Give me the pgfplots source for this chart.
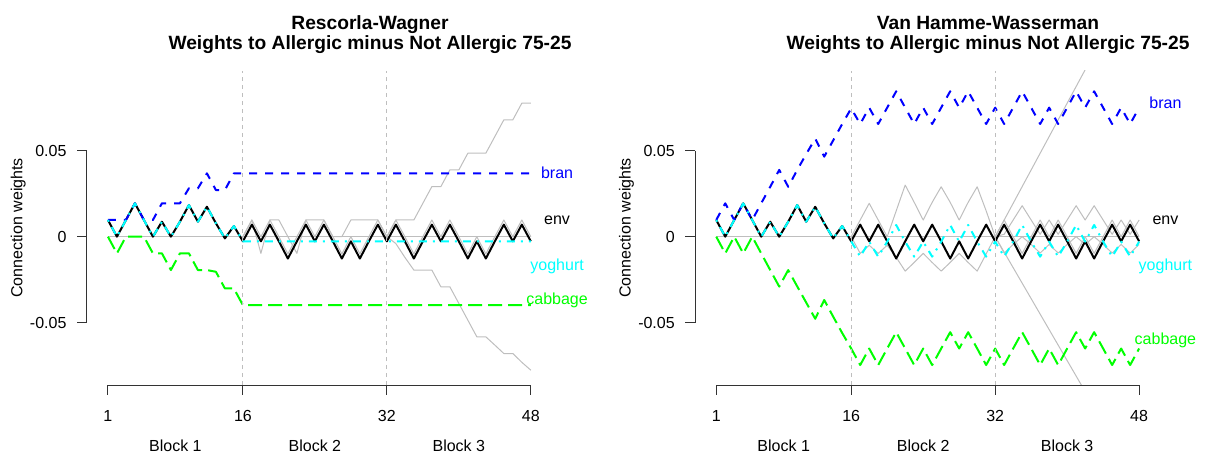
\documentclass[border=0pt]{standalone}
\usepackage{pgfplots}
\pgfplotsset{compat=1.18}
\usepackage{pgfplotstable}
\usepackage{fontspec}
\setmainfont{Liberation Sans}

\definecolor{rgrey}{HTML}{BEBEBE}
\definecolor{rblue}{HTML}{0000FF}
\definecolor{rgreen}{HTML}{00FF00}
\definecolor{rcyan}{HTML}{00FFFF}
\definecolor{raxis}{HTML}{333333}

% Rescorla-Wagner weights per trial
\pgfplotstableread{
t bran env yog cab
1 0.0097 0.0097 0.0097 0.0
2 0.0097 0.0 0.0 -0.0097
3 0.0097 0.0097 0.0097 0.0
4 0.0194 0.0194 0.0194 0.0
5 0.0097 0.0097 0.0097 0.0
6 0.0097 0.0 0.0 -0.0097
7 0.0194 0.0087 0.0087 -0.0097
8 0.0194 0.0 0.0 -0.0194
9 0.0194 0.0087 0.0087 -0.0097
10 0.0281 0.0184 0.0184 -0.0097
11 0.0281 0.0087 0.0087 -0.0194
12 0.0368 0.0174 0.0174 -0.0194
13 0.0271 0.0078 0.0078 -0.0204
14 0.0271 -0.0010 -0.0010 -0.0301
15 0.0368 0.0062 0.0062 -0.0301
16 0.0368 -0.0027 -0.0027 -0.0398
17 0.0368 0.0070 -0.0027 -0.0398
18 0.0368 -0.0027 -0.0027 -0.0398
19 0.0368 0.0070 -0.0027 -0.0398
20 0.0368 -0.0027 -0.0027 -0.0398
21 0.0368 -0.0127 -0.0027 -0.0398
22 0.0368 -0.0027 -0.0027 -0.0398
23 0.0368 0.0070 -0.0027 -0.0398
24 0.0368 -0.0027 -0.0027 -0.0398
25 0.0368 0.0070 -0.0027 -0.0398
26 0.0368 -0.0027 -0.0027 -0.0398
27 0.0368 -0.0127 -0.0027 -0.0398
28 0.0368 -0.0027 -0.0027 -0.0398
29 0.0368 -0.0127 -0.0027 -0.0398
30 0.0368 -0.0027 -0.0027 -0.0398
31 0.0368 0.0070 -0.0027 -0.0398
32 0.0368 -0.0027 -0.0027 -0.0398
33 0.0368 0.0070 -0.0027 -0.0398
34 0.0368 -0.0027 -0.0027 -0.0398
35 0.0368 -0.0127 -0.0027 -0.0398
36 0.0368 -0.0027 -0.0027 -0.0398
37 0.0368 0.0070 -0.0027 -0.0398
38 0.0368 -0.0027 -0.0027 -0.0398
39 0.0368 0.0070 -0.0027 -0.0398
40 0.0368 -0.0027 -0.0027 -0.0398
41 0.0368 -0.0127 -0.0027 -0.0398
42 0.0368 -0.0027 -0.0027 -0.0398
43 0.0368 -0.0127 -0.0027 -0.0398
44 0.0368 -0.0027 -0.0027 -0.0398
45 0.0368 0.0070 -0.0027 -0.0398
46 0.0368 -0.0027 -0.0027 -0.0398
47 0.0368 0.0070 -0.0027 -0.0398
48 0.0368 -0.0027 -0.0027 -0.0398
}\rwdata

% Rescorla-Wagner: remaining cues (grey)
\pgfplotstableread{
t g1 g2
16 0.0 0.0
17 0.0097 0.0097
18 0.0 -0.0097
19 0.0097 0.0097
20 0.0 0.0097
21 -0.0100 0.0
22 0.0 -0.0097
23 0.0097 0.0097
24 0.0 0.0097
25 0.0097 0.0097
26 0.0 0.0
27 -0.0100 0.0
28 0.0 0.0097
29 -0.0100 0.0097
30 0.0 0.0097
31 0.0097 0.0097
32 0.0 0.0
33 0.0097 0.0097
34 0.0 0.0097
35 -0.0100 0.0097
36 0.0 0.0194
37 0.0097 0.0291
38 0.0 0.0291
39 0.0097 0.0388
40 0.0 0.0388
41 -0.0100 0.0485
42 0.0 0.0485
43 -0.0100 0.0485
44 0.0 0.0582
45 0.0097 0.0679
46 0.0 0.0679
47 0.0097 0.0776
48 0.0 0.0776
}\rwgrey

\pgfplotstableread{
t g3
32 0.0
33 -0.0040
34 -0.0120
35 -0.0194
36 -0.0194
37 -0.0194
38 -0.0291
39 -0.0291
40 -0.0388
41 -0.0485
42 -0.0582
43 -0.0582
44 -0.0630
45 -0.0679
46 -0.0679
47 -0.0730
48 -0.0776
}\rwgreydown

% Van Hamme-Wasserman weights per trial
\pgfplotstableread{
t bran env yog cab
1 0.0097 0.0097 0.0097 0.0
2 0.0194 0.0 0.0 -0.0097
3 0.0097 0.0097 0.0097 0.0
4 0.0194 0.0194 0.0194 -0.0097
5 0.0097 0.0097 0.0097 0.0
6 0.0194 0.0 0.0 -0.0097
7 0.0290 0.0087 0.0087 -0.0194
8 0.0388 0.0 0.0 -0.0290
9 0.0290 0.0087 0.0087 -0.0194
10 0.0388 0.0184 0.0184 -0.0289
11 0.0480 0.0087 0.0087 -0.0383
12 0.0570 0.0174 0.0174 -0.0477
13 0.0465 0.0078 0.0078 -0.0368
14 0.0560 -0.0010 -0.0010 -0.0465
15 0.0655 0.0062 0.0062 -0.0560
16 0.0746 -0.0027 -0.0027 -0.0650
17 0.0655 0.0070 -0.0116 -0.0746
18 0.0750 -0.0027 -0.0029 -0.0650
19 0.0655 0.0070 -0.0116 -0.0746
20 0.0750 -0.0027 -0.0029 -0.0650
21 0.0845 -0.0127 0.0068 -0.0555
22 0.0750 -0.0027 -0.0029 -0.0650
23 0.0655 0.0070 -0.0116 -0.0746
24 0.0750 -0.0027 -0.0029 -0.0650
25 0.0655 0.0070 -0.0116 -0.0746
26 0.0750 -0.0027 -0.0029 -0.0650
27 0.0845 -0.0127 0.0068 -0.0555
28 0.0750 -0.0027 -0.0029 -0.0650
29 0.0845 -0.0127 0.0068 -0.0555
30 0.0750 -0.0027 -0.0029 -0.0650
31 0.0655 0.0070 -0.0116 -0.0746
32 0.0750 -0.0027 -0.0029 -0.0650
33 0.0655 0.0070 -0.0116 -0.0746
34 0.0750 -0.0027 -0.0029 -0.0650
35 0.0845 -0.0127 0.0068 -0.0555
36 0.0750 -0.0027 -0.0029 -0.0650
37 0.0655 0.0070 -0.0116 -0.0746
38 0.0750 -0.0027 -0.0029 -0.0650
39 0.0655 0.0070 -0.0116 -0.0746
40 0.0750 -0.0027 -0.0029 -0.0650
41 0.0845 -0.0127 0.0068 -0.0555
42 0.0750 -0.0027 -0.0029 -0.0650
43 0.0845 -0.0127 0.0068 -0.0555
44 0.0750 -0.0027 -0.0029 -0.0650
45 0.0655 0.0070 -0.0116 -0.0746
46 0.0750 -0.0027 -0.0029 -0.0650
47 0.0655 0.0070 -0.0116 -0.0746
48 0.0750 -0.0027 -0.0029 -0.0650
}\vhwdata

% Van Hamme-Wasserman: remaining cues (grey)
\pgfplotstableread{
t g1 g2
16 0.0 0.0
17 0.0097 -0.0097
18 0.0194 -0.0050
19 0.0097 -0.0097
20 0.0 -0.0050
21 0.0150 -0.0120
22 0.0300 -0.0200
23 0.0200 -0.0150
24 0.0097 -0.0097
25 0.0200 -0.0150
26 0.0290 -0.0200
27 0.0200 -0.0150
28 0.0097 -0.0097
29 0.0200 -0.0150
30 0.0290 -0.0200
31 0.0150 -0.0100
32 0.0 0.0
33 0.0097 -0.0090
34 0.0194 -0.0180
35 0.0291 -0.0270
36 0.0388 -0.0360
37 0.0485 -0.0450
38 0.0582 -0.0540
39 0.0679 -0.0630
40 0.0776 -0.0720
41 0.0873 -0.0810
42 0.0970 -0.0900
43 0.1067 -0.0990
}\vhwgrey

\pgfplotstableread{
t g3 g4 g5
32 0.0 0.0 0.0
33 0.0014 -0.0095 0.0097
34 0.0097 -0.0045 0.0
35 0.0180 0.0 -0.0097
36 0.0097 -0.0045 0.0
37 0.0014 -0.0095 0.0097
38 0.0097 -0.0045 0.0
39 0.0014 -0.0095 0.0097
40 0.0097 -0.0045 0.0
41 0.0180 0.0 -0.0097
42 0.0097 -0.0045 0.0
43 0.0180 0.0 -0.0097
44 0.0097 -0.0045 0.0
45 0.0014 -0.0095 0.0097
46 0.0097 -0.0045 0.0
47 0.0014 -0.0095 0.0097
48 0.0097 -0.0045 0.0
}\vhwgreyb

\pgfplotsset{
  rpanel/.style={
    scale only axis, width=430pt, height=235.5pt,
    xmin=-1.36, xmax=62.36, ymin=-0.0862, ymax=0.0963,
    hide axis, clip mode=individual, anchor=south west
  },
  greyline/.style={rgrey, line width=0.75pt, line join=round, forget plot},
  envline/.style={black, line width=1.5pt, line join=round},
  branline/.style={rblue, line width=1.5pt, dash pattern=on 6pt off 6pt, line join=round},
  cabline/.style={rgreen, line width=1.5pt, dash pattern=on 10.5pt off 4.5pt, line join=round},
  yogline/.style={rcyan, line width=1.5pt, dash pattern=on 1.5pt off 4.5pt on 6pt off 4.5pt, line join=round},
}

\newcommand{\lbl}{\fontsize{12}{14}\selectfont}
\newcommand{\ttl}{\bfseries\fontsize{14.4}{17}\selectfont}

% R-style frame: axes, ticks, block markers and labels
\newcommand{\rframe}{%
  \draw[rgrey, line width=0.75pt, dash pattern=on 3pt off 3pt] (axis cs:16,-0.0862) -- (axis cs:16,0.0963);
  \draw[rgrey, line width=0.75pt, dash pattern=on 3pt off 3pt] (axis cs:32,-0.0862) -- (axis cs:32,0.0963);
  \draw[raxis, line width=0.75pt] (axis cs:-1.36,-0.05) -- (axis cs:-1.36,0.05);
  \draw[raxis, line width=0.75pt] (axis cs:-1.36,-0.05) -- ++(-7.2pt,0pt);
  \draw[raxis, line width=0.75pt] (axis cs:-1.36,0) -- ++(-7.2pt,0pt);
  \draw[raxis, line width=0.75pt] (axis cs:-1.36,0.05) -- ++(-7.2pt,0pt);
  \node[anchor=east, inner sep=0pt, xshift=-15pt, font=\lbl] at (axis cs:-1.36,-0.05) {-0.05};
  \node[anchor=east, inner sep=0pt, xshift=-15pt, font=\lbl] at (axis cs:-1.36,0) {0};
  \node[anchor=east, inner sep=0pt, xshift=-15pt, font=\lbl] at (axis cs:-1.36,0.05) {0.05};
  \draw[raxis, line width=0.75pt] (axis cs:1,-0.0862) -- (axis cs:48,-0.0862);
  \draw[raxis, line width=0.75pt] (axis cs:1,-0.0862) -- ++(0pt,-7.2pt);
  \draw[raxis, line width=0.75pt] (axis cs:16,-0.0862) -- ++(0pt,-7.2pt);
  \draw[raxis, line width=0.75pt] (axis cs:32,-0.0862) -- ++(0pt,-7.2pt);
  \draw[raxis, line width=0.75pt] (axis cs:48,-0.0862) -- ++(0pt,-7.2pt);
  \node[inner sep=0pt, yshift=-23.3pt, font=\lbl] at (axis cs:1,-0.0862) {1};
  \node[inner sep=0pt, yshift=-23.3pt, font=\lbl] at (axis cs:16,-0.0862) {16};
  \node[inner sep=0pt, yshift=-23.3pt, font=\lbl] at (axis cs:32,-0.0862) {32};
  \node[inner sep=0pt, yshift=-23.3pt, font=\lbl] at (axis cs:48,-0.0862) {48};
  \node[inner sep=0pt, yshift=-45.7pt, font=\lbl] at (axis cs:8.5,-0.0862) {Block 1};
  \node[inner sep=0pt, yshift=-45.7pt, font=\lbl] at (axis cs:24,-0.0862) {Block 2};
  \node[inner sep=0pt, yshift=-45.7pt, font=\lbl] at (axis cs:40,-0.0862) {Block 3};
  \node[xshift=-51.3pt, rotate=90, inner sep=0pt, font=\lbl] at (axis cs:-1.36,0.0051) {Connection weights};
}

\begin{document}
\begin{tikzpicture}
\useasboundingbox (0,0) rectangle (903.75pt,342.75pt);

% Rescorla-Wagner
\begin{axis}[rpanel, at={(65.025pt,54pt)}]
  \addplot[greyline] coordinates {(1,0) (48,0)};
  \addplot[greyline] table[x=t, y=g1] {\rwgrey};
  \addplot[greyline] table[x=t, y=g2] {\rwgrey};
  \addplot[greyline] table[x=t, y=g3] {\rwgreydown};
  \addplot[envline] table[x=t, y=env] {\rwdata};
  \addplot[branline] table[x=t, y=bran] {\rwdata};
  \addplot[cabline] table[x=t, y=cab] {\rwdata};
  \addplot[yogline] table[x=t, y=yog] {\rwdata};
  \rframe
  \node[text=rblue, font=\lbl] at (axis cs:50.92,0.0370) {bran};
  \node[text=black, font=\lbl] at (axis cs:50.92,0.0097) {env};
  \node[text=rcyan, font=\lbl] at (axis cs:50.92,-0.0170) {yoghurt};
  \node[text=rgreen, font=\lbl] at (axis cs:50.92,-0.0368) {cabbage};
\end{axis}

% Van Hamme-Wasserman
\begin{axis}[rpanel, at={(521.25pt,54pt)}]
  \addplot[greyline] coordinates {(1,0) (48,0)};
  \addplot[greyline] table[x=t, y=g1] {\vhwgrey};
  \addplot[greyline] table[x=t, y=g2] {\vhwgrey};
  \addplot[greyline] table[x=t, y=g3] {\vhwgreyb};
  \addplot[greyline] table[x=t, y=g4] {\vhwgreyb};
  \addplot[greyline] table[x=t, y=g5] {\vhwgreyb};
  \addplot[envline] table[x=t, y=env] {\vhwdata};
  \addplot[branline] table[x=t, y=bran] {\vhwdata};
  \addplot[cabline] table[x=t, y=cab] {\vhwdata};
  \addplot[yogline] table[x=t, y=yog] {\vhwdata};
  \rframe
  \node[text=rblue, font=\lbl] at (axis cs:50.92,0.0780) {bran};
  \node[text=black, font=\lbl] at (axis cs:50.92,0.0097) {env};
  \node[text=rcyan, font=\lbl] at (axis cs:50.92,-0.0170) {yoghurt};
  \node[text=rgreen, font=\lbl] at (axis cs:50.92,-0.0600) {cabbage};
\end{axis}

% titles
\node[font=\ttl, anchor=base] at (277.5pt,320.7pt) {Rescorla-Wagner};
\node[font=\ttl, anchor=base] at (277.5pt,305.7pt) {Weights to Allergic minus Not Allergic 75-25};
\node[font=\ttl, anchor=base] at (741pt,320.7pt) {Van Hamme-Wasserman};
\node[font=\ttl, anchor=base] at (741pt,305.7pt) {Weights to Allergic minus Not Allergic 75-25};
\end{tikzpicture}
\end{document}
